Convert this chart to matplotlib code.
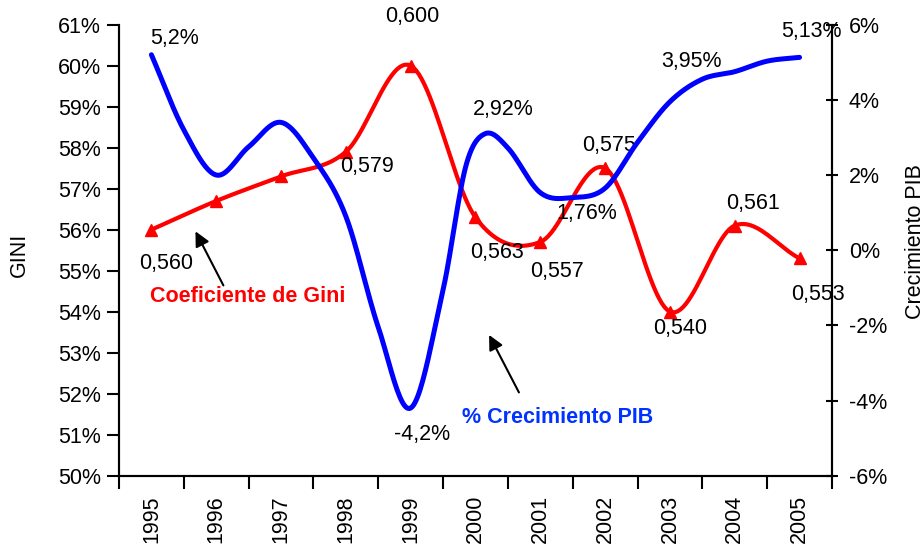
import numpy as np
import matplotlib
matplotlib.use("Agg")
import matplotlib.pyplot as plt
from matplotlib.ticker import PercentFormatter, FuncFormatter

plt.rcParams["font.family"] = ["Liberation Sans", "DejaVu Sans"]
plt.rcParams["font.size"] = 15.5

# --- data ---
years = ["1995", "1996", "1997", "1998", "1999", "2000",
         "2001", "2002", "2003", "2004", "2005"]
gini = [0.560, 0.567, 0.573, 0.579, 0.600, 0.563,
        0.557, 0.575, 0.540, 0.561, 0.553]
gini_labels = ["0,560", "", "", "0,579", "0,600", "0,563",
               "0,557", "0,575", "0,540", "0,561", "0,553"]

# GDP growth (%) at sub-year positions, in category index units
pib_x = [0.0, 0.5, 1.0, 1.5, 2.0, 2.5, 3.0, 3.5, 4.0, 4.5, 4.85,
         5.15, 5.5, 6.0, 6.5, 7.0, 7.5, 8.0, 8.5, 9.0, 9.5, 10.0]
pib = [5.2, 3.2, 2.0, 2.75, 3.4, 2.45, 0.9, -2.05, -4.2, -1.05, 2.23,
       3.1, 2.72, 1.53, 1.4, 1.65, 2.87, 3.95, 4.55, 4.75, 5.03, 5.13]

# label positions
gini_text_pos = [(0.23, 0.5518), None, None, (3.33, 0.5753), (4.02, 0.6119),
                 (5.33, 0.5545), (6.26, 0.5499), (7.06, 0.5806),
                 (8.16, 0.5358), (9.28, 0.5665), (10.29, 0.5443)]
pib_texts = ["5,2%", "-4,2%", "2,92%", "1,76%", "3,95%", "5,13%"]
pib_text_pos = [(0.35, 5.62), (4.18, -4.91), (5.43, 3.73),
                (6.72, 0.98), (8.34, 5.03), (10.19, 5.81)]


def smooth(x, y, n=24):
    # Excel-style smoothed line: cardinal (Catmull-Rom) cubic through the points
    x = np.asarray(x, float)
    y = np.asarray(y, float)
    m = np.empty_like(y)
    m[1:-1] = (y[2:] - y[:-2]) / (x[2:] - x[:-2])
    m[0] = (y[1] - y[0]) / (x[1] - x[0])
    m[-1] = (y[-1] - y[-2]) / (x[-1] - x[-2])
    xs, ys = [], []
    t = np.linspace(0, 1, n, endpoint=False)
    for i in range(len(x) - 1):
        h = x[i + 1] - x[i]
        h00 = 2 * t**3 - 3 * t**2 + 1
        h10 = t**3 - 2 * t**2 + t
        h01 = -2 * t**3 + 3 * t**2
        h11 = t**3 - t**2
        xs.append(x[i] + h * t)
        ys.append(h00 * y[i] + h10 * h * m[i] + h01 * y[i + 1] + h11 * h * m[i + 1])
    xs.append([x[-1]])
    ys.append([y[-1]])
    return np.concatenate(xs), np.concatenate(ys)


fig = plt.figure(figsize=(9.24, 5.46), dpi=100)
ax = fig.add_axes([0.1288, 0.1288, 0.7716, 0.826])
ax2 = ax.twinx()

xi = np.arange(len(years))
sx, sy = smooth(xi, gini)
ax.plot(sx, sy, color="#ff0000", lw=3.0, solid_capstyle="round")
ax.plot(xi, gini, linestyle="none", marker="^", ms=9, color="#ff0000")

bx, by = smooth(pib_x, pib)
ax2.plot(bx, by, color="#0000ff", lw=3.6, solid_capstyle="round")

ax.set_xlim(-0.5, len(years) - 0.5)
ax.set_ylim(0.50, 0.61)
ax.set_yticks(np.arange(0.50, 0.6101, 0.01))
ax.yaxis.set_major_formatter(PercentFormatter(1.0, decimals=0))
ax2.set_ylim(-6, 6)
ax2.set_yticks(np.arange(-6, 7, 2))
ax2.yaxis.set_major_formatter(FuncFormatter(lambda v, p: f"{v:.0f}%"))

ax.set_xticks(np.arange(-0.5, len(years), 1.0))
ax.set_xticklabels([])
ax.set_xticks(xi, minor=True)
ax.set_xticklabels(years, minor=True, rotation=90)
ax.tick_params(axis="x", which="minor", length=0, pad=14)
ax.tick_params(axis="x", which="major", length=9, width=1.5, direction="out")
ax.tick_params(axis="y", length=9, width=1.5, direction="out", pad=4)
ax2.tick_params(axis="y", length=8, width=1.5, direction="inout", pad=8)

for a in (ax, ax2):
    a.spines["top"].set_visible(False)
    for s in ("left", "right", "bottom"):
        a.spines[s].set_linewidth(1.5)

ax.set_ylabel("GINI")
ax.yaxis.set_label_coords(-0.125, 0.49)
ax2.set_ylabel("Crecimiento PIB")
ax2.yaxis.set_label_coords(1.102, 0.52)

for lab, pos in zip(gini_labels, gini_text_pos):
    if pos:
        ax.text(pos[0], pos[1], lab, ha="center", va="center")
for lab, pos in zip(pib_texts, pib_text_pos):
    ax2.text(pos[0], pos[1], lab, ha="center", va="center")

ax.text(1.48, 0.5436, "Coeficiente de Gini", color="#ff0000",
        fontweight="bold", ha="center", va="center")
ax2.text(6.27, -4.46, "% Crecimiento PIB", color="#0033ff",
         fontweight="bold", ha="center", va="center")

arrow = dict(arrowstyle="-|>", color="black", lw=1.5, mutation_scale=22)
ax.annotate("", xy=(0.66, 0.5602), xytext=(1.13, 0.5458), arrowprops=arrow)
ax2.annotate("", xy=(5.19, -2.19), xytext=(5.69, -3.85), arrowprops=arrow)

fig.savefig("out.png", dpi=100)
